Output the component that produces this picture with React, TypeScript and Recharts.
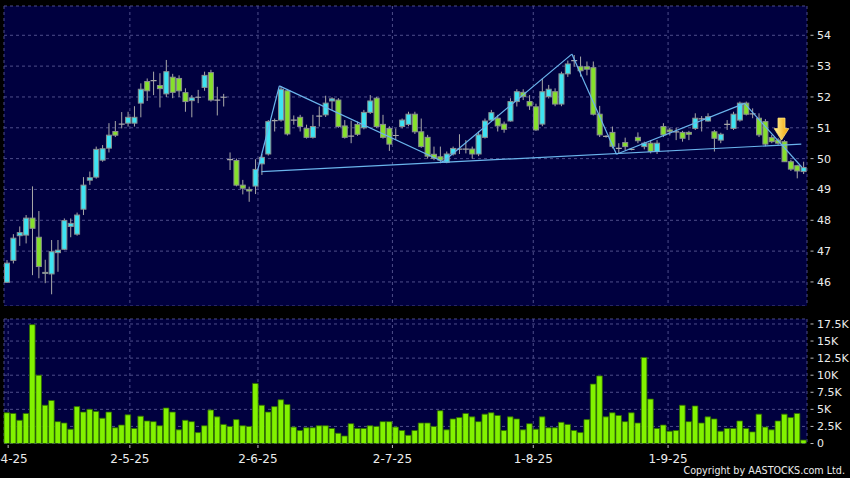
import { ComposedChart, Bar, XAxis, YAxis, CartesianGrid, ReferenceLine, ReferenceDot } from 'recharts';

// daily candles (price in $)
const OPEN = [
  45.99, 46.7, 47.5, 47.52, 48.07, 47.45, 46.3, 46.26, 46.95, 47.06,
  47.8, 47.55, 48.36, 49.3, 49.4, 49.95, 50.34, 50.88, 51.12, 51.15,
  51.15, 51.8, 52.5, 52.53, 52.37, 52.1, 52.64, 52.6, 52.14, 51.88,
  51.99, 52.31, 52.79, 51.9, 51.99, 49.97, 49.94, 49.14, 49.0, 49.11,
  49.83, 50.15, 51.23, 51.25, 52.2, 51.25, 51.34, 50.98, 50.69, 51.38,
  51.42, 51.87, 51.9, 51.06, 50.73, 51.11, 51.0, 51.5, 51.96, 51.11,
  50.98, 50.75, 51.04, 51.11, 51.44, 50.87, 50.69, 50.14, 50.06, 49.88,
  50.15, 50.31, 50.31, 50.31, 50.15, 50.69, 51.25, 51.31, 51.12, 51.22,
  51.85, 52.15, 51.85, 51.68, 51.12, 52.01, 52.17, 51.77, 52.75, 53.18,
  52.98, 52.98, 52.95, 51.44, 50.72, 50.85, 50.33, 50.52, 50.3, 50.69,
  50.39, 50.5, 50.23, 51.04, 50.93, 50.87, 50.85, 50.85, 50.98, 51.29,
  51.22, 50.87, 50.6, 51.11, 50.98, 51.25, 51.8, 51.45, 51.31, 51.2,
  50.68, 50.6, 50.55, 49.9, 49.77, 49.58,
];
const HIGH = [
  46.71, 47.55, 47.8, 48.17, 49.1, 48.3, 46.72, 47.36, 47.36, 48.06,
  48.06, 48.25, 49.4, 49.58, 50.39, 50.44, 51.15, 51.22, 51.51, 51.52,
  51.7, 52.44, 52.6, 52.82, 52.77, 53.2, 52.75, 52.7, 52.28, 52.06,
  52.23, 52.82, 52.88, 52.33, 52.1, 50.2, 50.0, 49.31, 49.09, 49.98,
  50.15, 51.25, 51.3, 52.35, 52.26, 51.4, 51.42, 51.1, 51.42, 51.69,
  52.04, 51.99, 51.96, 51.25, 51.23, 51.2, 51.58, 52.06, 52.0, 51.42,
  51.05, 50.98, 51.3, 51.52, 51.52, 51.3, 50.77, 50.39, 50.39, 50.23,
  50.39, 50.79, 50.6, 50.39, 50.88, 51.3, 51.58, 51.42, 51.2, 51.96,
  52.25, 52.25, 52.06, 51.78, 52.6, 52.39, 52.28, 52.82, 53.18, 53.36,
  53.31, 53.15, 53.15, 51.71, 50.76, 51.04, 50.5, 50.68, 50.33, 50.85,
  50.55, 50.6, 50.6, 51.15, 51.0, 51.0, 50.9, 50.9, 51.47, 51.38,
  51.47, 50.93, 50.84, 51.25, 51.52, 51.85, 51.85, 51.63, 51.47, 51.28,
  50.77, 50.66, 50.6, 49.96, 49.8, 49.9,
];
const LOW = [
  45.97, 46.6, 47.17, 47.25, 46.22, 46.12, 45.96, 45.6, 46.33, 47.04,
  47.45, 47.5, 48.17, 49.15, 49.35, 49.9, 50.2, 50.7, 50.98, 51.04,
  51.04, 51.34, 51.87, 52.06, 51.66, 52.0, 51.96, 52.0, 51.52, 51.34,
  51.8, 52.2, 51.85, 51.4, 51.69, 49.63, 49.1, 48.84, 48.6, 48.85,
  49.47, 50.1, 50.88, 51.2, 50.75, 51.1, 50.88, 50.65, 50.65, 51.04,
  51.35, 51.58, 51.0, 50.65, 50.5, 50.74, 50.95, 51.45, 51.0, 50.65,
  50.25, 50.6, 50.98, 51.05, 50.8, 50.35, 50.0, 49.95, 49.85, 49.85,
  50.1, 50.15, 50.17, 50.0, 50.08, 50.65, 51.2, 50.88, 50.84, 51.2,
  51.69, 51.9, 51.58, 50.9, 51.05, 51.95, 51.7, 51.7, 52.65, 52.98,
  52.66, 52.7, 51.4, 50.7, 50.68, 50.33, 50.17, 50.28, 50.27, 50.5,
  50.3, 50.17, 50.15, 50.7, 50.75, 50.6, 50.55, 50.6, 50.93, 50.88,
  51.2, 50.23, 50.5, 50.93, 50.93, 51.2, 51.4, 51.31, 50.7, 50.4,
  50.5, 50.45, 49.9, 49.6, 49.36, 49.5,
];
const CLOSE = [
  46.61, 47.42, 47.6, 48.07, 47.74, 46.5, 46.31, 46.98, 47.03, 47.99,
  47.9, 48.17, 49.14, 49.38, 50.3, 50.32, 50.76, 50.76, 51.12, 51.34,
  51.34, 52.25, 52.2, 52.53, 52.27, 52.82, 52.15, 52.2, 51.85, 51.97,
  51.99, 52.7, 51.9, 51.9, 51.99, 49.97, 49.14, 49.04, 48.95, 49.65,
  50.04, 51.2, 51.23, 52.25, 50.8, 51.25, 51.04, 50.69, 51.04, 51.38,
  51.8, 51.94, 51.04, 50.69, 50.73, 50.79, 51.5, 51.87, 51.04, 50.69,
  50.47, 50.75, 51.25, 51.44, 50.87, 50.39, 50.08, 50.01, 49.95, 50.15,
  50.33, 50.31, 50.31, 50.15, 50.77, 51.22, 51.49, 51.06, 50.95, 51.85,
  52.17, 52.01, 51.71, 50.93, 52.17, 52.25, 51.77, 52.75, 53.07, 53.18,
  52.85, 52.9, 51.44, 50.77, 50.72, 50.4, 50.33, 50.39, 50.3, 50.58,
  50.5, 50.23, 50.5, 50.77, 50.88, 50.87, 50.66, 50.79, 51.31, 51.29,
  51.36, 50.66, 50.79, 51.11, 51.44, 51.8, 51.44, 51.45, 50.77, 50.47,
  50.55, 50.5, 49.9, 49.66, 49.6, 49.71,
];
// volume, thousands of shares
const VOLUME_K = [
  4.5, 4.4, 3.4, 4.4, 17.4, 10.0, 5.6, 6.3, 3.2, 3.0,
  2.1, 5.4, 4.6, 5.0, 4.7, 3.7, 4.6, 2.3, 2.7, 4.2,
  2.2, 4.0, 3.3, 3.2, 2.6, 5.2, 4.6, 2.0, 3.4, 3.2,
  1.6, 2.6, 4.9, 3.9, 2.8, 2.5, 3.5, 2.6, 2.5, 8.8,
  5.6, 4.6, 5.4, 6.4, 5.7, 2.4, 1.9, 2.3, 2.3, 2.6,
  2.6, 2.2, 1.5, 1.1, 2.9, 2.2, 2.2, 2.6, 2.5, 3.2,
  3.2, 2.4, 1.9, 1.2, 1.9, 3.0, 3.0, 2.5, 4.8, 2.0,
  3.6, 3.8, 4.4, 3.9, 3.2, 4.3, 4.5, 4.1, 1.9, 3.9,
  3.6, 2.0, 2.9, 2.1, 3.9, 2.3, 2.3, 3.1, 2.8, 1.9,
  1.6, 3.5, 8.7, 9.9, 3.9, 4.5, 4.1, 3.2, 4.5, 3.0,
  12.6, 6.5, 2.2, 2.7, 1.8, 1.9, 5.6, 3.2, 5.5, 3.0,
  3.9, 3.6, 1.8, 2.2, 2.2, 3.3, 2.2, 1.7, 4.3, 2.4,
  2.0, 3.3, 4.3, 3.8, 4.4, 0.5,
];

// where each month label sits on the bar index axis
const DATE_TICKS = [0.15, 19.25, 39.35, 60.45, 82.55, 103.7];
const DATE_LABELS = ['2-4-25', '2-5-25', '2-6-25', '2-7-25', '1-8-25', '1-9-25'];
const PRICE_TICKS = [46, 47, 48, 49, 50, 51, 52, 53, 54];
const VOLUME_TICKS = [0, 2.5, 5, 7.5, 10, 12.5, 15, 17.5];

// drawn pattern: neckline plus the zigzag of shoulders / head
const NECKLINE = [{ i: 39.9, p: 49.58 }, { i: 124.6, p: 50.47 }];
const PATTERN = [
  { i: 39.2, p: 49.55 },
  { i: 42.7, p: 52.36 },
  { i: 68.4, p: 49.9 },
  { i: 88.6, p: 53.39 },
  { i: 95.6, p: 50.14 },
  { i: 115.7, p: 51.79 },
  { i: 124.7, p: 49.72 },
];
const SIGNAL = { i: 121.5, p: 50.6 };

const BG = '#00003f';
const GRID = '#4d4d8a';
const UP = '#3de3f2';
const DOWN = '#86e02c';
const EDGE = '#8a9090';
const WICK = '#a8a8a8';
const VOL = '#82f200';
const VOL_EDGE = '#2f6b00';
const LINE = '#6ab4ec';
const TEXT = '#ececec';

const candles = OPEN.map((o, i) => ({ i, o, h: HIGH[i], l: LOW[i], c: CLOSE[i], v: VOLUME_K[i] }));
const segments = PATTERN.slice(1).map((pt, k) => [PATTERN[k], pt]);

const X_DOMAIN = [-0.5, OPEN.length - 0.5];
const MARGIN_PRICE = { top: 6, right: 0, bottom: 0, left: 4 };
const MARGIN_VOL = { top: 7, right: 0, bottom: 0, left: 4 };

function Candle(props: any) {
  const { x, y, width, height, payload } = props;
  const { o, h, l, c } = payload;
  const k = height / (h - l);
  const py = (v: number) => y + (h - v) * k;
  const mid = x + width / 2;
  const top = py(Math.max(o, c));
  const bot = py(Math.min(o, c));
  return (
    <g>
      <line x1={mid} x2={mid} y1={y} y2={y + height} stroke={WICK} strokeWidth={1} />
      {o === c ? (
        <line x1={x} x2={x + width} y1={top} y2={top} stroke={WICK} strokeWidth={1.2} />
      ) : (
        <rect x={x + 0.5} y={top} width={width - 1} height={Math.max(bot - top, 1)} fill={c > o ? UP : DOWN} stroke={EDGE} strokeWidth={1} />
      )}
    </g>
  );
}

function SideTick(props: any) {
  const { x, y, payload, fmt } = props;
  return (
    <g>
      <line x1={x + 3.5} x2={x + 6.5} y1={y} y2={y} stroke="#bdbdbd" />
      <text x={x + 10} y={y} dy="0.36em" fill={TEXT} fontSize={11}>{fmt(payload.value)}</text>
    </g>
  );
}

function DateTick(props: any) {
  const { x, y, payload } = props;
  const label = DATE_LABELS[DATE_TICKS.indexOf(payload.value)];
  return (
    <g>
      <line x1={x} x2={x} y1={y + 1.5} y2={y + 4.5} stroke="#bdbdbd" />
      <text x={x} y={y + 19} textAnchor="middle" fill={TEXT} fontSize={12}>{label}</text>
    </g>
  );
}

function Arrow(props: any) {
  const { cx, cy } = props;
  const d = `M${cx - 3.5},${cy - 22} H${cx + 3.5} V${cy - 11.5} H${cx + 7.3} L${cx},${cy} L${cx - 7.3},${cy - 11.5} H${cx - 3.5} Z`;
  return (
    <g>
      <defs>
        <linearGradient id="sig" x1="0" y1="0" x2="1" y2="0">
          <stop offset="0" stopColor="#fff39a" />
          <stop offset="1" stopColor="#f2a100" />
        </linearGradient>
      </defs>
      <path d={d} fill="url(#sig)" stroke="#ffe27a" strokeWidth={0.8} />
    </g>
  );
}

const priceFmt = (v: number) => String(v);
const volFmt = (v: number) => (v === 0 ? '0' : `${v}K`);

export default function App() {
  return (
    <div style={{ position: 'relative', width: 850, height: 478, background: '#000', overflow: 'hidden', fontFamily: '"DejaVu Sans", sans-serif' }}>
      <style>{'body{margin:0;background:#000}'}</style>
      <div style={{ position: 'absolute', left: 0, top: 0 }}>
        <ComposedChart width={850} height={306} data={candles} margin={MARGIN_PRICE}>
          <CartesianGrid fill={BG} fillOpacity={1} stroke={GRID} strokeDasharray="3 3" />
          <XAxis type="number" dataKey="i" domain={X_DOMAIN} ticks={DATE_TICKS} hide />
          <YAxis
            orientation="right"
            width={43}
            domain={[45.22, 54.95]}
            ticks={PRICE_TICKS}
            interval={0}
            allowDataOverflow
            axisLine={false}
            tickLine={false}
            tickSize={0}
            tickMargin={0}
            tick={(p: any) => <SideTick {...p} fmt={priceFmt} />}
          />
          <Bar dataKey={(d: any) => [d.l, d.h]} barSize={6} isAnimationActive={false} shape={(p: any) => <Candle {...p} />} />
          <ReferenceLine
            segment={[{ x: NECKLINE[0].i, y: NECKLINE[0].p }, { x: NECKLINE[1].i, y: NECKLINE[1].p }]}
            stroke={LINE}
            strokeWidth={1.2}
          />
          {segments.map(([a, b], k) => (
            <ReferenceLine key={k} segment={[{ x: a.i, y: a.p }, { x: b.i, y: b.p }]} stroke={LINE} strokeWidth={1.2} />
          ))}
          <ReferenceDot x={SIGNAL.i} y={SIGNAL.p} r={0} shape={(p: any) => <Arrow {...p} />} />
        </ComposedChart>
      </div>
      <div style={{ position: 'absolute', left: 0, top: 312 }}>
        <ComposedChart width={850} height={166} data={candles} margin={MARGIN_VOL}>
          <CartesianGrid fill={BG} fillOpacity={1} stroke={GRID} strokeDasharray="3 3" />
          <XAxis
            type="number"
            dataKey="i"
            domain={X_DOMAIN}
            ticks={DATE_TICKS}
            height={34.5}
            axisLine={false}
            tickLine={false}
            tickSize={0}
            tickMargin={0}
            interval={0}
            tick={(p: any) => <DateTick {...p} />}
          />
          <YAxis
            orientation="right"
            width={43}
            domain={[0, 18.23]}
            ticks={VOLUME_TICKS}
            interval={0}
            allowDataOverflow
            axisLine={false}
            tickLine={false}
            tickSize={0}
            tickMargin={0}
            tick={(p: any) => <SideTick {...p} fmt={volFmt} />}
          />
          <Bar dataKey="v" barSize={5.6} fill={VOL} stroke={VOL_EDGE} strokeWidth={0.8} isAnimationActive={false} />
        </ComposedChart>
      </div>
      <div style={{ position: 'absolute', right: 5, top: 465, fontSize: 9.6, lineHeight: '12px', color: TEXT }}>
        Copyright by AASTOCKS.com Ltd.
      </div>
    </div>
  );
}
